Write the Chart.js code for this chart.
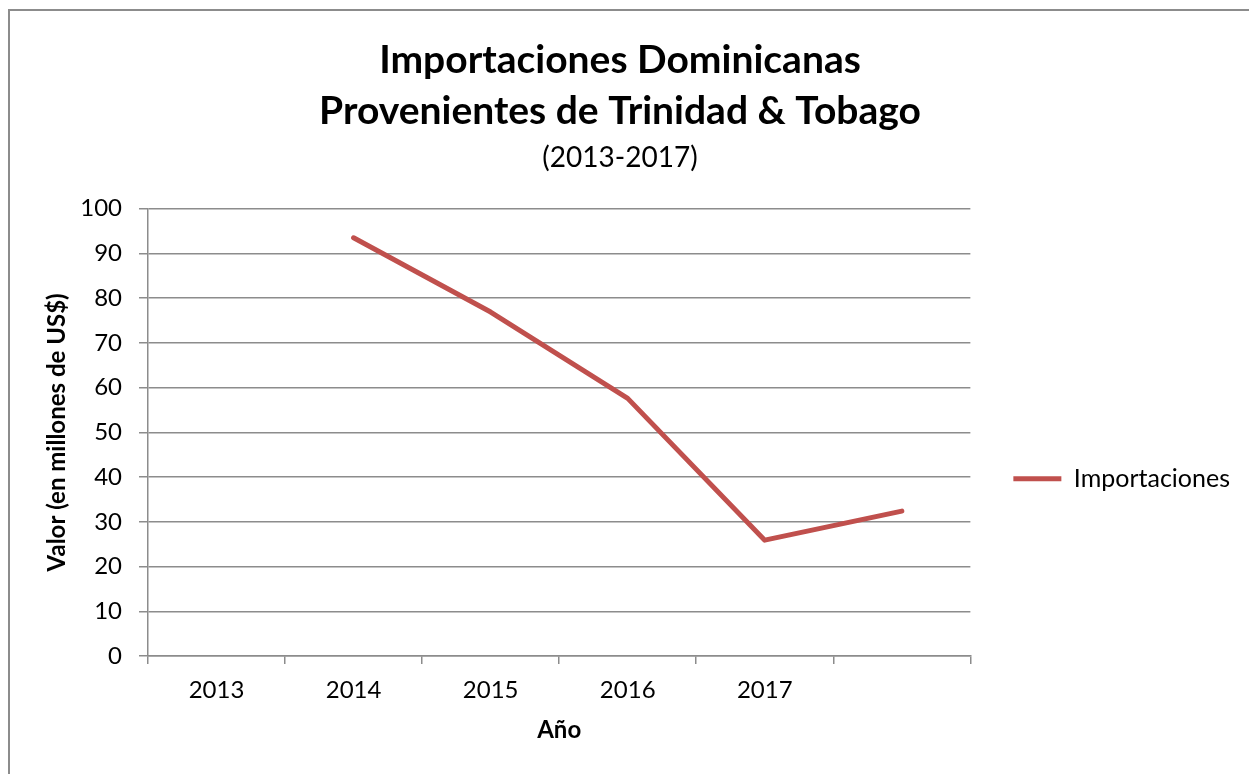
<!DOCTYPE html>
<html>
<head>
<meta charset="utf-8">
<script src="https://cdn.jsdelivr.net/npm/chart.js@4"></script>
<style>
  html, body { margin: 0; padding: 0; overflow: hidden; background: #fff; }
  .frame { position: absolute; left: 8px; top: 9px; width: 1300px; height: 820px; border: 2px solid #8c8c8c; }
  .wrap { position: absolute; left: 0; top: 0; width: 1249px; height: 774px; }
</style>
</head>
<body>
<div class="frame"></div>
<div class="wrap"><canvas id="myChart"></canvas></div>
<script>
// data (millones de US$)
var years = ['2013', '2014', '2015', '2016', '2017', ''];
var importaciones = [null, 93.5, 76.9, 57.6, 25.9, 32.4];

var gridGray = '#8c8c8c';
Chart.defaults.font.family = 'Lato';
Chart.defaults.color = '#000';

var ctx = document.getElementById('myChart').getContext('2d');

var myChart = new Chart(ctx, {
    type: 'line',
    data: {
        labels: years,
        datasets: [{
            label: 'Importaciones',
            data: importaciones,
            borderColor: '#C0504D',
            backgroundColor: '#C0504D',
            borderWidth: 5,
            borderCapStyle: 'round',
            borderJoinStyle: 'round',
            pointRadius: 0,
            tension: 0
        }]
    },
    options: {
        responsive: true,
        maintainAspectRatio: false,
        animation: false,
        layout: {
            padding: { left: 0, right: 9, top: 0, bottom: 0 }
        },
        plugins: {
            title: {
                display: true,
                text: ['Importaciones Dominicanas', 'Provenientes de Trinidad & Tobago'],
                font: { size: 39, weight: 'bold', lineHeight: 1.308 },
                padding: { top: 34.5, bottom: 0 }
            },
            subtitle: {
                display: true,
                text: '(2013-2017)',
                font: { size: 28, lineHeight: 1.2 },
                padding: { top: 4.7, bottom: 33.9 }
            },
            legend: {
                position: 'right',
                fullSize: false,
                labels: {
                    usePointStyle: true,
                    pointStyle: 'line',
                    pointStyleWidth: 48,
                    padding: 43,
                    font: { size: 25 }
                },
                title: {
                    display: true,
                    text: '',
                    font: { size: 12, lineHeight: 1 },
                    padding: { top: 0, bottom: 81 }
                }
            },
            tooltip: { enabled: false }
        },
        scales: {
            x: {
                offset: true,
                grid: {
                    offset: true,
                    drawOnChartArea: false,
                    tickLength: 8,
                    color: gridGray,
                    lineWidth: 1.5
                },
                border: { display: true, color: gridGray, width: 1.5 },
                ticks: { font: { size: 24 }, padding: 12, maxRotation: 0 },
                title: {
                    display: true,
                    text: 'Año',
                    font: { size: 24, weight: 'bold', lineHeight: 1.2 },
                    padding: { top: 0, bottom: 29.6 }
                },
                afterFit: function (scale) { scale.height = 118; }
            },
            y: {
                min: 0,
                max: 100,
                ticks: { stepSize: 10, font: { size: 24 }, padding: 17 },
                grid: { color: gridGray, lineWidth: 1.5, tickLength: 9 },
                border: { display: true, color: gridGray, width: 1.5 },
                title: {
                    display: true,
                    text: 'Valor (en millones de US$)',
                    font: { size: 24, weight: 'bold', lineHeight: 1.2 },
                    padding: { top: 42.6, bottom: 0 }
                },
                afterFit: function (scale) { scale.width = 148; }
            }
        }
    }
});
</script>
</body>
</html>
